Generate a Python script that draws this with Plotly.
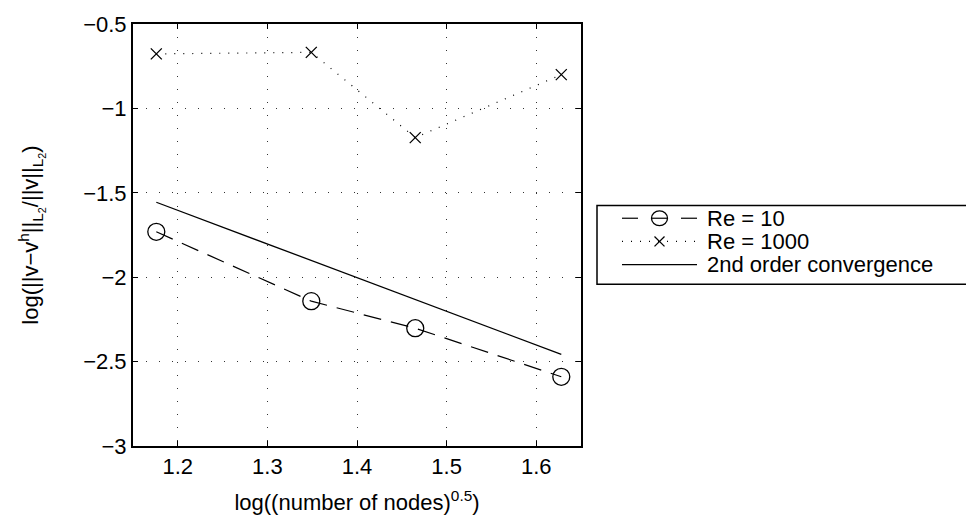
import plotly.graph_objects as go

x_nodes = [1.176, 1.349, 1.465, 1.628]
re10 = [-1.731, -2.142, -2.302, -2.590]
re1000 = [-0.677, -0.668, -1.173, -0.800]
order2_x = [1.176, 1.628]
order2_y = [-1.556, -2.457]

series_names = ["Re = 10", "Re = 1000", "2nd order convergence"]

x_ticks = [1.2, 1.3, 1.4, 1.5, 1.6]
x_ticktext = ["1.2", "1.3", "1.4", "1.5", "1.6"]
y_ticks = [-3, -2.5, -2, -1.5, -1, -0.5]
y_ticktext = ["\u22123", "\u22122.5", "\u22122", "\u22121.5", "\u22121", "\u22120.5"]

FONT = "Liberation Sans, Arial, Helvetica, sans-serif"
FS = 22

W, H = 966, 523
ML, MR, MT, MB = 133, 385, 18, 77
PW, PH = W - ML - MR, H - MT - MB

def px(xp):
    return (xp - ML) / PW

def py(yp):
    return (H - MB - yp) / PH

fig = go.Figure()
fig.add_trace(go.Scatter(
    x=x_nodes, y=re10, name=series_names[0], mode="lines+markers",
    line=dict(color="black", width=1.2, dash="18px,10px"),
    marker=dict(symbol="circle-open", size=17, color="black", line=dict(width=1.3)),
))
fig.add_trace(go.Scatter(
    x=x_nodes, y=re1000, name=series_names[1], mode="lines+markers",
    line=dict(color="black", width=1.2, dash="1px,8px"),
    marker=dict(symbol="x-thin-open", size=11, color="black", line=dict(width=1.3, color="black")),
))
fig.add_trace(go.Scatter(
    x=order2_x, y=order2_y, name=series_names[2], mode="lines",
    line=dict(color="black", width=1.3),
))

# ---- legend drawn as decoration (box, samples, labels) ----
shapes = []
annotations = []
box_l, box_r, box_t, box_b = 597, 972, 202, 282
shapes.append(dict(type="rect", xref="paper", yref="paper",
                   x0=px(box_l), x1=px(box_r), y0=py(box_b), y1=py(box_t),
                   line=dict(color="black", width=1.5), fillcolor="white", layer="above"))
rows = [215, 238.5, 262]
dashes = ["18px,10px", "1px,8px", "solid"]
s0, s1 = 622, 697
cx = (s0 + s1) / 2
for i, (yr, d, name) in enumerate(zip(rows, dashes, series_names)):
    if i == 0:
        shapes.append(dict(type="line", xref="paper", yref="paper", x0=px(s0), x1=px(s0 + 16),
                           y0=py(yr), y1=py(yr), line=dict(color="black", width=1.2), layer="above"))
        shapes.append(dict(type="line", xref="paper", yref="paper", x0=px(s1 - 16), x1=px(s1),
                           y0=py(yr), y1=py(yr), line=dict(color="black", width=1.2), layer="above"))
        shapes.append(dict(type="line", xref="paper", yref="paper", x0=px(cx - 8), x1=px(cx + 8),
                           y0=py(yr), y1=py(yr), line=dict(color="black", width=1.2), layer="above"))
        shapes.append(dict(type="circle", xref="paper", yref="paper", x0=px(cx - 8), x1=px(cx + 8),
                           y0=py(yr + 7.5), y1=py(yr - 7.5), line=dict(color="black", width=1.3), layer="above"))
    elif i == 1:
        shapes.append(dict(type="line", xref="paper", yref="paper", x0=px(s0), x1=px(s1),
                           y0=py(yr), y1=py(yr), line=dict(color="black", width=1.2, dash=d), layer="above"))
        shapes.append(dict(type="line", xref="paper", yref="paper", x0=px(cx - 5), x1=px(cx + 5),
                           y0=py(yr - 5), y1=py(yr + 5), line=dict(color="black", width=1.3), layer="above"))
        shapes.append(dict(type="line", xref="paper", yref="paper", x0=px(cx - 5), x1=px(cx + 5),
                           y0=py(yr + 5), y1=py(yr - 5), line=dict(color="black", width=1.3), layer="above"))
    else:
        shapes.append(dict(type="line", xref="paper", yref="paper", x0=px(s0), x1=px(s1),
                           y0=py(yr), y1=py(yr), line=dict(color="black", width=1.3), layer="above"))
    annotations.append(dict(xref="paper", yref="paper", x=px(705), y=py(yr), text=name,
                            showarrow=False, xanchor="left", yanchor="middle",
                            font=dict(family=FONT, size=FS, color="black")))

axis_common = dict(
    showline=True, linecolor="black", linewidth=2, mirror="ticks",
    ticks="inside", ticklen=5, tickcolor="black", tickwidth=1,
    showgrid=True, gridcolor="#333333", griddash="1px,12px", gridwidth=1,
    zeroline=False, tickfont=dict(family=FONT, size=FS, color="black"),
)

fig.update_layout(
    width=W, height=H,
    margin=dict(l=ML, r=MR, t=MT, b=MB),
    paper_bgcolor="white", plot_bgcolor="white",
    font=dict(family=FONT, size=FS, color="black"),
    xaxis=dict(range=[1.15, 1.65], tickvals=x_ticks, ticktext=x_ticktext,
               title=dict(text="log((number of nodes)<sup>0.5</sup>)", font=dict(family=FONT, size=FS), standoff=16),
               **axis_common),
    yaxis=dict(range=[-3, -0.5], tickvals=y_ticks, ticktext=y_ticktext,
               title=dict(text="log(||v\u2212v<sup>h</sup>||<sub>L<sub>2</sub></sub>/||v||<sub>L<sub>2</sub></sub>)",
                          font=dict(family=FONT, size=FS), standoff=38),
               **axis_common),
    showlegend=False,
    shapes=shapes,
    annotations=annotations,
)

fig.write_html("out.html")
